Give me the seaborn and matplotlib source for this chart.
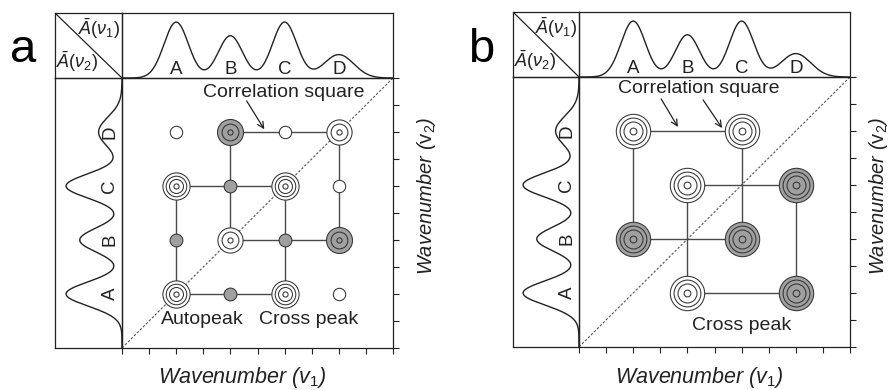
import numpy as np
import pandas as pd
import matplotlib
matplotlib.use("Agg")
import matplotlib.pyplot as plt
import seaborn as sns

# ---------------- data ----------------
bands = ["A", "B", "C", "D"]
band_pos = [2, 4, 6, 8]                     # positions on both wavenumber axes
spec_height = [0.86, 0.65, 0.86, 0.36]      # relative peak heights of the 1D spectrum
spec_width = [0.45, 0.45, 0.45, 0.55]       # peak widths (axis units)

# panel a (synchronous map): v1 band, v2 band, peak kind
a_v1 = ["A", "B", "C", "D", "A", "B", "C", "D", "A", "B", "C", "D", "A", "B", "C", "D"]
a_v2 = ["A", "A", "A", "A", "B", "B", "B", "B", "C", "C", "C", "C", "D", "D", "D", "D"]
a_kind = ["large", "small_neg", "large", "small",
          "small_neg", "medium", "small_neg", "medium_neg",
          "large", "small_neg", "large", "small",
          "small", "medium_neg", "small", "medium"]
a_squares = [("A", "C", "A", "C"), ("B", "D", "B", "D")]

# panel b (asynchronous map)
b_v1 = ["B", "D", "A", "C", "B", "D", "A", "C"]
b_v2 = ["A", "A", "B", "B", "C", "C", "D", "D"]
b_kind = ["pos", "neg", "neg", "neg", "pos", "neg", "pos", "pos"]
b_squares = [("A", "C", "B", "D"), ("B", "D", "A", "C")]

axis_ticks = list(range(0, 11))

# ---------------- style ----------------
sns.set_theme(style="white")
plt.rcParams["font.family"] = ["Liberation Sans", "DejaVu Sans"]
plt.rcParams["mathtext.fontset"] = "custom"
plt.rcParams["mathtext.it"] = "Liberation Sans:italic"
plt.rcParams["mathtext.rm"] = "Liberation Sans"
plt.rcParams["mathtext.sf"] = "Liberation Sans"

INK = "#222222"
LINE = "#4a4a4a"
GRAY = "#a0a0a0"
RING = "#333333"
ring_styles = {
    "large": ("white", [13.6, 10.3, 7.0, 2.6]),
    "medium": ("white", [12.6, 8.4, 2.6]),
    "medium_neg": (GRAY, [13.0, 8.4, 2.6]),
    "small": ("white", [6.2]),
    "small_neg": (GRAY, [6.4]),
    "pos": ("white", [17.2, 13.4, 9.5, 3.4]),
    "neg": (GRAY, [17.2, 13.4, 9.5, 3.4]),
}
pos_of = dict(zip(bands, band_pos))

W, H = 891, 390
fig = plt.figure(figsize=(W / 100, H / 100), dpi=100)


def box(x0, y0, x1, y1):
    return [x0 / W, 1 - y1 / H, (x1 - x0) / W, (y1 - y0) / H]


def px_to_s(r):
    return (2 * r * 72 / 100) ** 2


def frame(ax):
    for sp in ax.spines.values():
        sp.set_visible(True)
        sp.set_color(INK)
        sp.set_linewidth(0.9)
    ax.set_xticks([])
    ax.set_yticks([])
    ax.set_facecolor("none")


grid = np.linspace(0, 10, 800)
curve = np.zeros_like(grid)
for c, h, w in zip(band_pos, spec_height, spec_width):
    curve = curve + h * np.exp(-0.5 * ((grid - c) / w) ** 2)


def draw_panel(L, M, R, T, S, B, v1, v2, kind, squares, letter, notes, arrows, rlabel_x):
    ax_c = fig.add_axes(box(L, T, M, S))
    ax_t = fig.add_axes(box(M, T, R, S))
    ax_l = fig.add_axes(box(L, S, M, B))
    ax_m = fig.add_axes(box(M, S, R, B))

    # corner
    frame(ax_c)
    ax_c.plot([0, 1], [1, 0], color=INK, lw=0.9, transform=ax_c.transAxes)
    ax_c.set_xlim(0, 1)
    ax_c.set_ylim(0, 1)
    ax_c.text(0.97, 0.75, r"$\bar{A}(\nu_1)$", ha="right", va="center",
              fontsize=13, color=INK, transform=ax_c.transAxes)
    ax_c.text(0.02, 0.25, r"$\bar{A}(\nu_2)$", ha="left", va="center",
              fontsize=13, color=INK, transform=ax_c.transAxes)

    # top spectrum
    sns.lineplot(x=grid, y=curve, ax=ax_t, color=INK, lw=1.0)
    ax_t.set_xlim(0, 10)
    ax_t.set_ylim(0, 1)
    frame(ax_t)
    for b, p in zip(bands, band_pos):
        ax_t.text(p, 0.13, b, ha="center", va="center", fontsize=13.5, color=INK)
    ax_t.set(xlabel="", ylabel="")

    # left spectrum
    sns.lineplot(x=curve, y=grid, ax=ax_l, color=INK, lw=1.0, sort=False, estimator=None)
    ax_l.set_xlim((M - L) / (S - T), 0)
    ax_l.set_ylim(0, 10)
    frame(ax_l)
    for b, p in zip(bands, band_pos):
        ax_l.text(0.185, p, b, ha="center", va="center", rotation=90, fontsize=13.5, color=INK)
    ax_l.set(xlabel="", ylabel="")

    # main correlation map
    ax_m.plot([0, 10], [0, 10], color="#555555", lw=0.8, ls=(0, (2.2, 1.6)), zorder=1)
    for x_lo, x_hi, y_lo, y_hi in squares:
        xs = [pos_of[x_lo], pos_of[x_hi], pos_of[x_hi], pos_of[x_lo], pos_of[x_lo]]
        ys = [pos_of[y_lo], pos_of[y_lo], pos_of[y_hi], pos_of[y_hi], pos_of[y_lo]]
        ax_m.plot(xs, ys, color=LINE, lw=1.0, zorder=2)
    df = pd.DataFrame({"v1": [pos_of[b] for b in v1],
                       "v2": [pos_of[b] for b in v2],
                       "kind": kind})
    for k, grp in df.groupby("kind"):
        fill, radii = ring_styles[k]
        for r in radii:
            sns.scatterplot(data=grp, x="v1", y="v2", s=px_to_s(r), color=fill,
                            edgecolor=RING, linewidth=0.75, ax=ax_m, zorder=3, legend=False)
    ax_m.set_xlim(0, 10)
    ax_m.set_ylim(0, 10)
    frame(ax_m)
    ax_m.set_xticks(axis_ticks)
    ax_m.set_yticks(axis_ticks)
    ax_m.tick_params(axis="both", which="both", direction="out", length=4, width=0.8,
                     color=INK, left=False, top=False, right=True, bottom=True,
                     labelleft=False, labelbottom=False, labelright=False, labeltop=False)
    ax_m.set(xlabel="", ylabel="")
    for (tx, ty, s) in notes:
        ax_m.text(tx, ty, s, ha="center", va="center", fontsize=14, color=INK, zorder=5)
    for (x0, y0, x1, y1) in arrows:
        ax_m.annotate("", xy=(x1, y1), xytext=(x0, y0),
                      arrowprops=dict(arrowstyle="->", color=INK, lw=0.9,
                                      shrinkA=0, shrinkB=0, mutation_scale=11), zorder=5)

    # panel letter and axis titles
    fig.text((L - 45) / W, 1 - 62 / H, letter, ha="left", va="baseline", fontsize=34, color="black")
    fig.text((M + R) / 2 / W - 15 / W, 1 - 377 / H, r"Wavenumber ($\mathit{v}_{\mathit{1}}$)",
             ha="center", va="center", fontsize=15.5, style="italic", color=INK)
    fig.text(rlabel_x / W, 1 - 196 / H, r"Wavenumber ($\mathrm{v}_{\mathrm{2}}$)",
             ha="center", va="center", rotation=90, fontsize=14.5, style="italic", color=INK)


draw_panel(55, 122, 393, 13, 78, 348, a_v1, a_v2, a_kind, a_squares, "a",
           notes=[(5.96, 9.48, "Correlation square"),
                  (2.95, 1.04, "Autopeak"),
                  (6.9, 1.04, "Cross peak")],
           arrows=[(4.6, 9.15, 5.25, 8.1)], rlabel_x=426)

draw_panel(513, 579, 850, 12, 77, 347, b_v1, b_v2, b_kind, b_squares, "b",
           notes=[(4.43, 9.59, "Correlation square"),
                  (6.01, 0.81, "Cross peak")],
           arrows=[(3.03, 9.19, 3.65, 8.15), (4.58, 9.15, 5.28, 8.11)], rlabel_x=879)

fig.savefig("out.png", dpi=100, facecolor="white")
